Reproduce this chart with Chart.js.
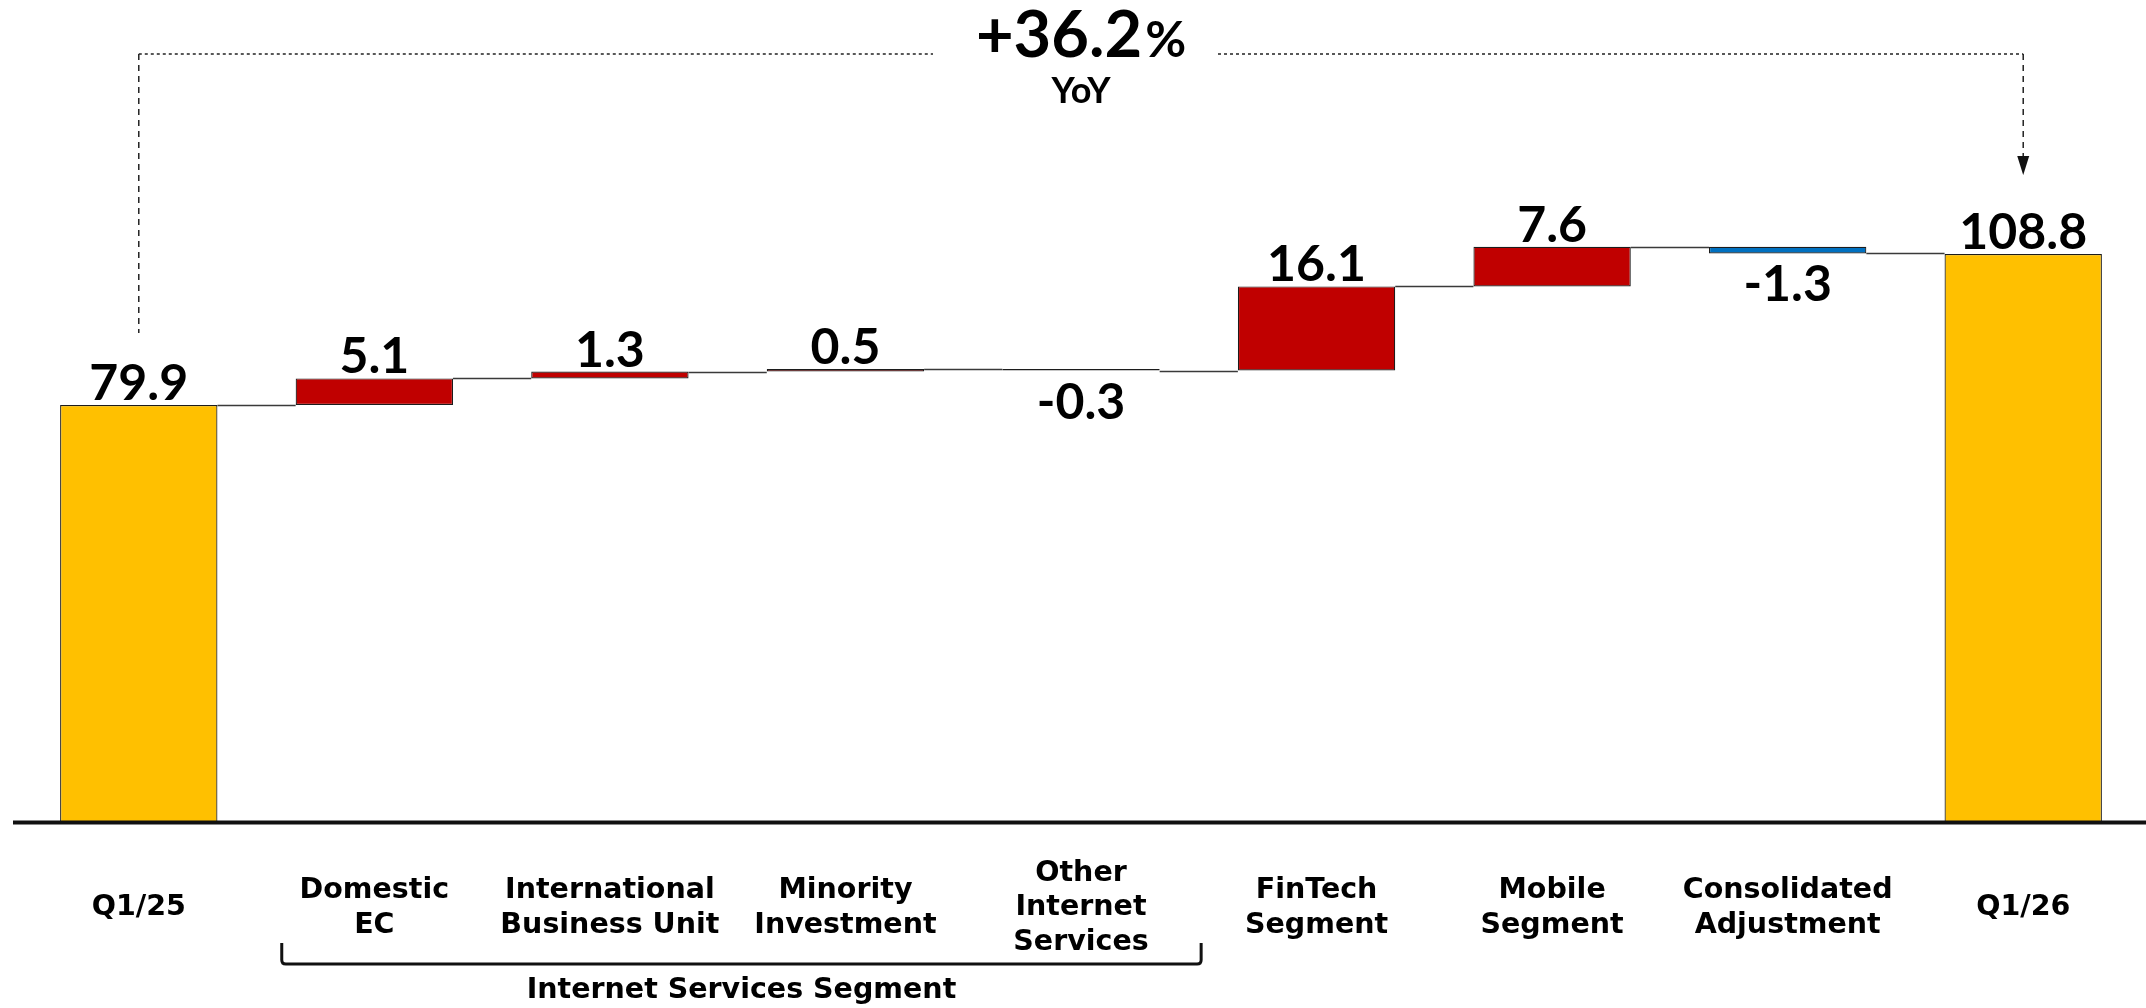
<!DOCTYPE html>
<html>
<head>
<meta charset="utf-8">
<title>Revenue bridge Q1/25 to Q1/26</title>
<script src="https://cdn.jsdelivr.net/npm/chart.js@4.4.1/dist/chart.umd.min.js"></script>
<style>
  html, body { margin: 0; padding: 0; background: #ffffff; }
  #wrap { width: 2146px; height: 1008px; }
</style>
</head>
<body>
<div id="wrap"><canvas id="bridge" width="2146" height="1008"></canvas></div>
<script>
// ---- data ----
const categories = [
  ["Q1/25"],
  ["Domestic", "EC"],
  ["International", "Business Unit"],
  ["Minority", "Investment"],
  ["Other", "Internet", "Services"],
  ["FinTech", "Segment"],
  ["Mobile", "Segment"],
  ["Consolidated", "Adjustment"],
  ["Q1/26"]
];
const startTotal = 79.9;
const changes = [5.1, 1.3, 0.5, -0.3, 16.1, 7.6, -1.3];
const endTotal = 108.8;
const growthText = "+36.2";
const growthUnit = "%";
const growthSub = "YoY";
const groupLabel = "Internet Services Segment";
const groupFirst = 1;
const groupLast = 4;

// ---- build floating bar ranges for the waterfall ----
const ranges = [];
const kinds = [];
const shown = [];
ranges.push([0, startTotal]); kinds.push("total"); shown.push(startTotal);
let running = startTotal;
changes.forEach(d => {
  ranges.push([running, running + d]);
  kinds.push(d >= 0 ? "up" : "down");
  shown.push(d);
  running += d;
});
ranges.push([0, endTotal]); kinds.push("total"); shown.push(endTotal);

const palette = { total: "#FFC000", up: "#C00000", down: "#0070C0" };

// ---- decorations: connectors, baseline, value labels, brackets ----
const bridgeDecor = {
  id: "bridgeDecor",
  beforeDatasetsDraw(chart) {
    const ctx = chart.ctx;
    const ys = chart.scales.y;
    const bars = chart.getDatasetMeta(0).data;
    ctx.save();
    ctx.strokeStyle = "#3a3a3a";
    ctx.lineWidth = 1.5;
    for (let i = 0; i < bars.length - 1; i++) {
      const level = ranges[i][1];
      const y = Math.round(ys.getPixelForValue(level)) + 0.5;
      ctx.beginPath();
      ctx.moveTo(bars[i].x + bars[i].width / 2, y);
      ctx.lineTo(bars[i + 1].x - bars[i + 1].width / 2, y);
      ctx.stroke();
    }
    ctx.restore();
  },
  afterDatasetsDraw(chart) {
    const ctx = chart.ctx;
    const xs = chart.scales.x;
    const ys = chart.scales.y;
    const step = xs.getPixelForValue(1) - xs.getPixelForValue(0);

    ctx.save();
    // thick baseline
    const y0 = ys.getPixelForValue(0);
    ctx.strokeStyle = "#111111";
    ctx.lineWidth = 4;
    ctx.beginPath();
    ctx.moveTo(13, y0);
    ctx.lineTo(chart.width, y0);
    ctx.stroke();

    // value labels
    ctx.fillStyle = "#000000";
    ctx.textAlign = "center";
    ctx.textBaseline = "alphabetic";
    ctx.font = "bold 50px Lato";
    ranges.forEach((r, i) => {
      const x = xs.getPixelForValue(i);
      const v = shown[i];
      const txt = v.toFixed(1);
      if (v >= 0) {
        const top = ys.getPixelForValue(Math.max(r[0], r[1]));
        ctx.fillText(txt, x, top - 5);
      } else {
        const bottom = ys.getPixelForValue(Math.min(r[0], r[1]));
        ctx.fillText(txt, x, bottom + 48);
      }
    });

    // growth bracket across the top
    const xL = xs.getPixelForValue(0);
    const xR = xs.getPixelForValue(ranges.length - 1);
    const xMid = (xL + xR) / 2;
    const yTop = 54;
    ctx.strokeStyle = "#222222";
    ctx.lineWidth = 1.5;
    ctx.setLineDash([3, 3]);
    ctx.beginPath();
    ctx.moveTo(xL, yTop); ctx.lineTo(xMid - 148, yTop);
    ctx.moveTo(xMid + 137, yTop); ctx.lineTo(xR, yTop);
    ctx.stroke();
    ctx.setLineDash([6, 5]);
    ctx.beginPath();
    ctx.moveTo(xL, yTop); ctx.lineTo(xL, ys.getPixelForValue(startTotal) - 72);
    ctx.moveTo(xR, yTop); ctx.lineTo(xR, 157);
    ctx.stroke();
    ctx.setLineDash([]);
    ctx.fillStyle = "#111111";
    ctx.beginPath();
    ctx.moveTo(xR - 6, 156);
    ctx.lineTo(xR + 6, 156);
    ctx.lineTo(xR, 175);
    ctx.closePath();
    ctx.fill();

    // growth text
    ctx.fillStyle = "#000000";
    ctx.textBaseline = "alphabetic";
    const mainFont = "bold 65px Lato";
    const unitFont = "bold 50px Lato";
    ctx.font = mainFont;
    const wMain = ctx.measureText(growthText).width;
    ctx.font = unitFont;
    const wUnit = ctx.measureText(growthUnit).width;
    const gap = 3;
    const tx = xMid - (wMain + gap + wUnit) / 2;
    ctx.textAlign = "left";
    ctx.font = mainFont;
    ctx.fillText(growthText, tx, 57);
    ctx.font = unitFont;
    ctx.fillText(growthUnit, tx + wMain + gap, 57);
    ctx.textAlign = "center";
    ctx.font = "bold 36px Lato";
    ctx.fillText(growthSub, xMid, 103);

    // group bracket under the internet services categories
    const bx0 = xs.getPixelForValue(groupFirst) - 0.393 * step;
    const bx1 = xs.getPixelForValue(groupLast) + 0.51 * step;
    const byTop = 943, byBot = 964, rad = 4;
    ctx.strokeStyle = "#111111";
    ctx.lineWidth = 3;
    ctx.beginPath();
    ctx.moveTo(bx0, byTop);
    ctx.lineTo(bx0, byBot - rad);
    ctx.quadraticCurveTo(bx0, byBot, bx0 + rad, byBot);
    ctx.lineTo(bx1 - rad, byBot);
    ctx.quadraticCurveTo(bx1, byBot, bx1, byBot - rad);
    ctx.lineTo(bx1, byTop);
    ctx.stroke();
    ctx.font = "bold 28.5px 'DejaVu Sans'";
    ctx.fillText(groupLabel, (bx0 + bx1) / 2, 998);
    ctx.restore();
  }
};

function drawChart() {
  const ctx = document.getElementById("bridge").getContext("2d");
  new Chart(ctx, {
    type: "bar",
    data: {
      labels: categories,
      datasets: [{
        data: ranges,
        backgroundColor: kinds.map(k => palette[k]),
        borderColor: "#1c1c1c",
        borderWidth: 1.2,
        borderSkipped: false,
        barPercentage: 1,
        categoryPercentage: 0.668
      }]
    },
    options: {
      responsive: false,
      animation: false,
      devicePixelRatio: 1,
      layout: { padding: { left: 21, right: 5, top: 38.75, bottom: 0 } },
      plugins: { legend: { display: false }, tooltip: { enabled: false } },
      scales: {
        x: {
          grid: { display: false, drawTicks: false },
          border: { display: false },
          ticks: {
            color: "#000000",
            font: { family: "'DejaVu Sans'", weight: "bold", size: 28.5, lineHeight: 1.21 },
            padding: 51,
            crossAlign: "center",
            maxRotation: 0,
            minRotation: 0,
            autoSkip: false
          },
          afterFit(axis) { axis.height = 185.5; }
        },
        y: { display: false, min: 0, max: 150 }
      }
    },
    plugins: [bridgeDecor]
  });
}

Promise.all([
  document.fonts.load("bold 50px Lato"),
  document.fonts.load("bold 28.5px 'DejaVu Sans'")
]).then(drawChart, drawChart);
</script>
</body>
</html>
